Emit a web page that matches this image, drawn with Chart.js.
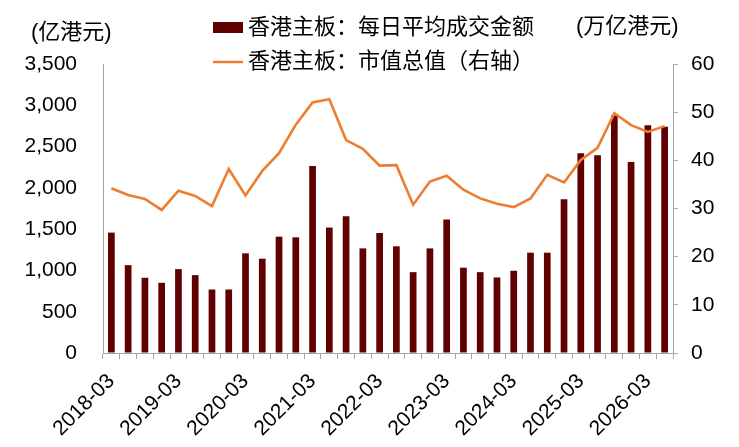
<!DOCTYPE html>
<html><head><meta charset="utf-8">
<script src="https://cdn.jsdelivr.net/npm/chart.js@4.4.1/dist/chart.umd.min.js"></script>
<style>html,body{margin:0;padding:0;background:#fff;}#wrap{width:739px;height:447px;position:relative;}</style>
</head><body><div id="wrap"><canvas id="c"></canvas></div>
<script>
const categories = [
  '2018-03','2018-06','2018-09','2018-12',
  '2019-03','2019-06','2019-09','2019-12',
  '2020-03','2020-06','2020-09','2020-12',
  '2021-03','2021-06','2021-09','2021-12',
  '2022-03','2022-06','2022-09','2022-12',
  '2023-03','2023-06','2023-09','2023-12',
  '2024-03','2024-06','2024-09','2024-12',
  '2025-03','2025-06','2025-09','2025-12',
  '2026-03','2026-06'
];
const turnover = [
  1458,1064,911,850,
  1016,943,769,769,
  1207,1142,1409,1401,
  2264,1519,1656,1267,
  1453,1292,979,1267,
  1616,1033,979,915,
  996,1215,1215,1863,
  2418,2394,2875,2312,
  2758,2741
];
const marketCap = [
  34.2,32.8,32.0,29.7,
  33.7,32.6,30.5,38.2,
  32.7,37.8,41.5,47.4,
  52.0,52.7,44.2,42.4,
  38.9,39.0,30.8,35.6,
  36.8,33.9,32.1,31.0,
  30.3,32.1,37.0,35.4,
  40.1,42.6,49.8,47.3,
  45.9,47.1
];
const seriesNames = ['香港主板：每日平均成交金额','香港主板：市值总值（右轴）'];
const leftTitle = '(亿港元)';
const rightTitle = '(万亿港元)';
const leftAxis = {min:0, max:3500, step:500};
const rightAxis = {min:0, max:60, step:10};

const FONT = '"Liberation Sans", "Noto Sans CJK SC", sans-serif';
Chart.defaults.font.family = FONT;
Chart.defaults.font.size = 21;
Chart.defaults.color = '#000';

const overlay = {
  id:'overlay',
  afterDraw(chart){
    const ctx = chart.ctx;
    ctx.save();
    ctx.font = '22px ' + FONT;
    ctx.fillStyle = '#000';
    ctx.textBaseline = 'middle';
    ctx.textAlign = 'left';
    ctx.fillText(leftTitle, 31, 33);
    ctx.fillText(rightTitle, 576, 27);
    const ds = chart.data.datasets;
    ctx.fillStyle = ds[0].backgroundColor;
    ctx.fillRect(213, 22, 30, 11);
    ctx.fillStyle = '#000';
    ctx.fillText(ds[0].label, 248, 28);
    ctx.strokeStyle = ds[1].borderColor;
    ctx.lineWidth = 2.5;
    ctx.beginPath(); ctx.moveTo(213, 62); ctx.lineTo(243, 62); ctx.stroke();
    ctx.fillText(ds[1].label, 248, 62);
    ctx.restore();
  }
};

new Chart(document.getElementById('c'), {
  data: {
    labels: categories,
    datasets: [
      {type:'bar', label:seriesNames[0], data:turnover, backgroundColor:'#600000', yAxisID:'y', order:2, barPercentage:0.4, categoryPercentage:1},
      {type:'line', label:seriesNames[1], data:marketCap, borderColor:'#ED7D31', backgroundColor:'#ED7D31', borderWidth:2.6, pointRadius:0, tension:0, yAxisID:'y1', order:1}
    ]
  },
  options: {
    responsive:true, maintainAspectRatio:false, animation:false,
    layout:{padding:{top:64,left:0,right:0,bottom:0}},
    plugins:{legend:{display:false}, tooltip:{enabled:false}},
    scales:{
      x:{
        offset:true,
        grid:{display:true, drawOnChartArea:false, offset:true, tickLength:6, color:'#A6A6A6'},
        border:{color:'#A6A6A6'},
        ticks:{autoSkip:false, minRotation:45, maxRotation:45, padding:10, font:{size:21},
          callback:function(v,i){ return i%4===0 ? categories[i] : ''; }},
        afterFit(s){ s.height = 94; }
      },
      y:{
        position:'left', min:leftAxis.min, max:leftAxis.max,
        ticks:{stepSize:leftAxis.step, padding:26},
        grid:{display:true, drawOnChartArea:false, drawTicks:false, color:'#A6A6A6'},
        border:{color:'#A6A6A6'},
        afterFit(s){ s.width = 103; }
      },
      y1:{
        position:'right', min:rightAxis.min, max:rightAxis.max,
        ticks:{stepSize:rightAxis.step, padding:13},
        grid:{display:true, drawOnChartArea:false, tickLength:5, color:'#A6A6A6'},
        border:{color:'#A6A6A6'},
        afterFit(s){ s.width = 66; }
      }
    }
  },
  plugins:[overlay]
});
</script></body></html>
